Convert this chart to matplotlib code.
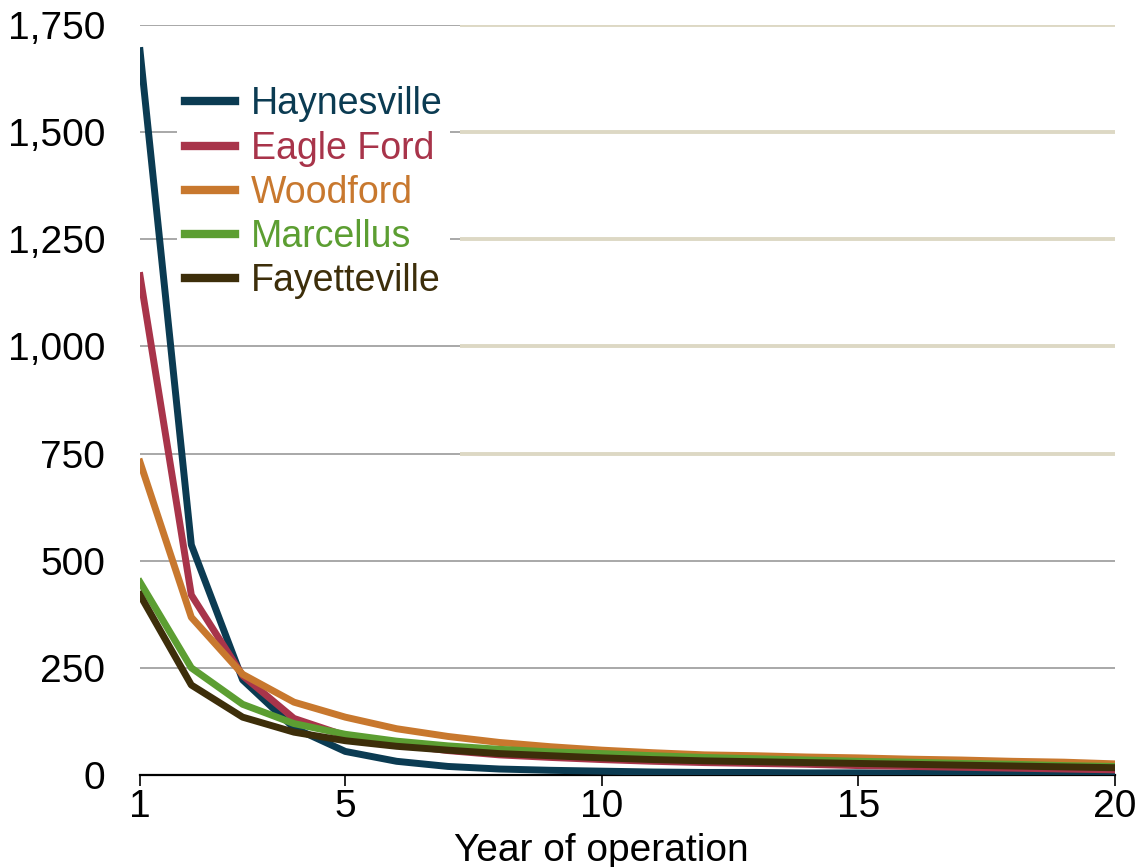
import matplotlib.pyplot as plt
from matplotlib.ticker import FuncFormatter

plt.rcParams['font.family'] = ['Liberation Sans', 'DejaVu Sans']

years = list(range(1, 21))
haynesville = [1690, 537, 222, 110, 55, 32, 20, 14, 11, 9, 7, 6, 6, 5, 5, 4, 4, 4, 3, 3]
eagle_ford = [1165, 420, 232, 132, 92, 72, 57, 47, 41, 36, 32, 29, 27, 25, 22, 20, 18, 16, 14, 12]
woodford = [730, 368, 235, 170, 135, 108, 90, 76, 66, 58, 52, 47, 45, 42, 40, 37, 35, 32, 30, 26]
marcellus = [450, 250, 165, 120, 95, 79, 68, 60, 54, 50, 45, 41, 38, 35, 32, 30, 27, 25, 22, 20]
fayetteville = [420, 210, 135, 100, 80, 67, 58, 50, 45, 40, 36, 33, 31, 29, 27, 25, 23, 21, 19, 17]

names = ['Haynesville', 'Eagle Ford', 'Woodford', 'Marcellus', 'Fayetteville']
colors = ['#0b3b52', '#a8344a', '#c8782e', '#5c9e32', '#3d2e0a']
series = [haynesville, eagle_ford, woodford, marcellus, fayetteville]

yticks = [0, 250, 500, 750, 1000, 1250, 1500, 1750]
xticks = [1, 5, 10, 15, 20]

fig = plt.figure(figsize=(11.42, 8.67), dpi=100)
ax = fig.add_axes([0.1226, 0.1061, 0.8538, 0.8651])

# grid: gray on the left, beige on the right for the upper lines
ax.hlines(yticks[1:], 1, 20, color='#a8a8a8', lw=1.4, zorder=1)
ax.hlines([y for y in yticks if y >= 750], 7.24, 20, color='#ddd8c4', lw=2.8, zorder=1.5)

for vals, name, c in zip(series, names, colors):
    ax.plot(years, vals, color=c, lw=5, label=name, zorder=3)

ax.set_xlim(1, 20)
ax.set_ylim(0, 1750)
ax.set_xticks(xticks)
ax.set_yticks(yticks)
ax.yaxis.set_major_formatter(FuncFormatter(lambda v, p: f'{int(v):,}'))
ax.tick_params(axis='y', length=0, labelsize=28, pad=25)
ax.tick_params(axis='x', length=8, width=1.2, direction='out', labelsize=28, pad=2)
for s in ['left', 'right', 'top']:
    ax.spines[s].set_visible(False)
ax.spines['bottom'].set_linewidth(1.6)
ax.spines['bottom'].set_zorder(2)
ax.set_xlabel('Year of operation', fontsize=28)
ax.xaxis.set_label_coords(0.473, -0.077)

leg = ax.legend(loc='upper left', bbox_to_anchor=(0.019, 0.953), fontsize=27,
                frameon=True, facecolor='white', edgecolor='none', framealpha=1,
                handlelength=1.33, handletextpad=0.43, labelspacing=0.22,
                borderpad=0.2, fancybox=False)
for txt, c in zip(leg.get_texts(), colors):
    txt.set_color(c)
for h in leg.get_lines():
    h.set_linewidth(6)
leg.set_zorder(2.5)

fig.savefig('out.png', dpi=100)
